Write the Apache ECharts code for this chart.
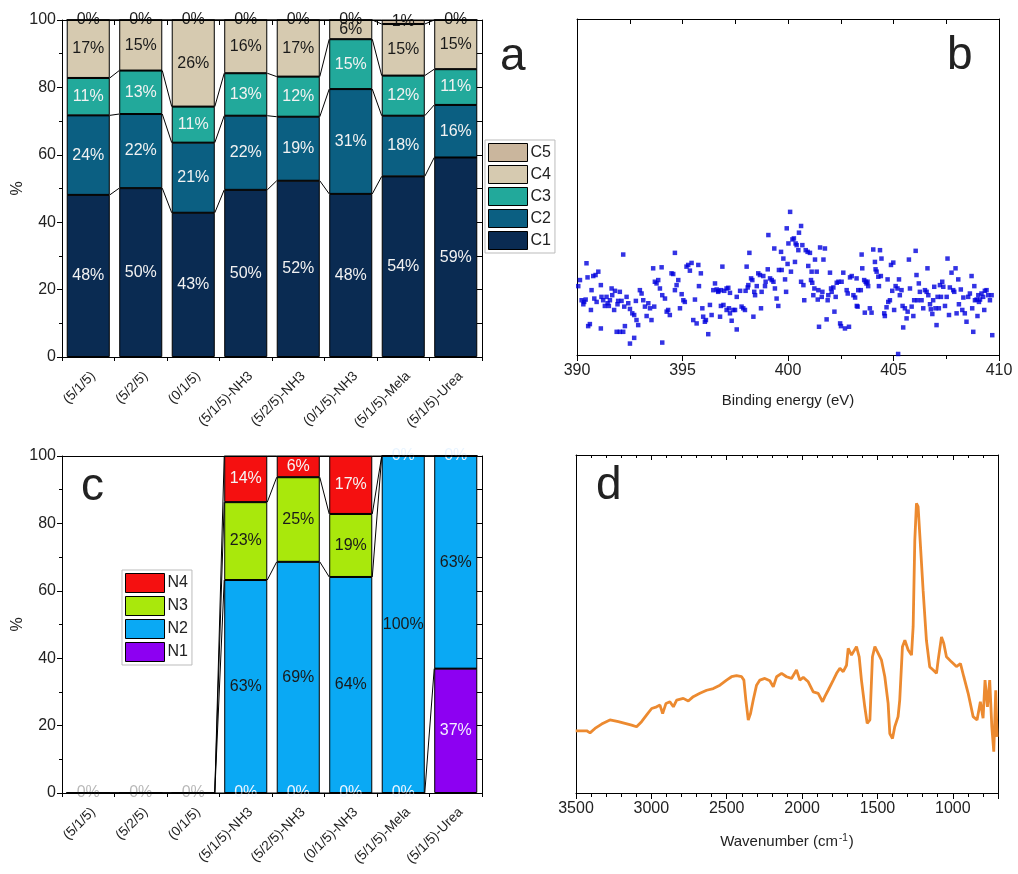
<!DOCTYPE html>
<html lang="en">
<head>
<meta charset="UTF-8">
<title>C / N species, XPS N1s, FTIR</title>
<script src="https://cdn.jsdelivr.net/npm/echarts@6/dist/echarts.min.js"></script>
<style>
html, body { margin: 0; padding: 0; background: #fff; }
#main { width: 1018px; height: 874px; }
</style>
</head>
<body>
<div id="main"></div>
<script>
// ---- data ----
var samples = ['(5/1/5)', '(5/2/5)', '(0/1/5)', '(5/1/5)-NH3', '(5/2/5)-NH3', '(0/1/5)-NH3', '(5/1/5)-Mela', '(5/1/5)-Urea'];

// panel a, carbon species (%)
var C1 = [48.1, 50.1, 42.8, 49.6, 52.3, 48.4, 53.6, 59.2];
var C2 = [23.6, 22.0, 20.8, 22.0, 19.0, 31.1, 18.0, 15.6];
var C3 = [11.1, 12.9, 10.7, 12.6, 11.9, 14.8, 11.9, 10.6];
var C4 = [17.2, 15.0, 25.7, 15.8, 16.8, 5.7, 15.3, 14.6];
var C5 = [0, 0, 0, 0, 0, 0, 1.2, 0];

// panel c, nitrogen species (%)
var N1 = [0, 0, 0, 0, 0, 0, 0, 36.9];
var N2 = [0, 0, 0, 63.2, 68.6, 64.1, 100, 63.1];
var N3 = [0, 0, 0, 23.1, 25.1, 18.7, 0, 0];
var N4 = [0, 0, 0, 13.7, 6.3, 17.2, 0, 0];

// panel b, N1s region: [binding energy eV, intensity a.u.]
var xpsPoints = [
  [390.14,22.3],[390.06,20.5],[390.45,27.3],[390.50,23.1],[390.77,23.5],[390.88,23.8],[391.01,24.8],[390.69,19.3],
  [390.22,16.3],[390.34,15.8],[390.30,15.1],[390.41,16.5],[390.66,13.4],[390.82,16.8],[390.93,15.8],[391.13,20.8],
  [391.16,17.3],[391.24,16.3],[391.32,14.6],[391.40,17.3],[391.45,15.4],[391.51,14.6],[391.56,16.3],[391.64,19.8],
  [391.67,17.8],[391.76,13.4],[391.80,19.1],[391.92,15.1],[391.95,16.1],[392.03,18.8],[392.11,16.1],[392.19,29.9],
  [392.24,14.4],[392.35,17.3],[392.43,15.4],[392.51,13.7],[392.62,12.4],[392.71,11.9],[392.79,16.1],[392.82,10.4],
  [392.90,8.9],[392.98,19.3],[393.06,18.3],[393.14,16.3],[393.22,14.4],[393.30,11.6],[393.38,15.4],[393.46,13.9],
  [393.53,10.4],[393.61,25.8],[393.66,14.4],[393.69,21.8],[393.77,21.3],[393.85,22.3],[393.93,19.8],[394.01,26.1],
  [394.04,17.8],[394.17,16.8],[394.25,12.9],[394.32,13.4],[394.40,11.9],[394.48,24.3],[394.56,24.1],[394.64,30.4],
  [394.72,20.8],[394.64,19.3],[394.80,22.3],[394.88,13.9],[394.96,18.1],[395.04,16.3],[395.11,15.8],[395.19,26.3],
  [395.27,26.8],[395.35,25.1],[395.43,27.4],[395.51,10.4],[395.59,16.5],[395.67,9.4],[395.75,26.8],[395.78,20.5],
  [395.87,24.3],[395.94,13.9],[395.98,11.4],[396.06,9.9],[396.11,10.4],[396.22,6.2],[396.30,14.9],[396.38,11.9],
  [396.46,19.3],[396.54,21.3],[396.62,19.5],[396.69,18.8],[390.53,8.6],[390.61,9.2],[391.13,7.9],[391.88,6.9],
  [392.03,6.9],[392.19,6.9],[392.27,8.6],[392.51,3.4],[392.71,5.1],[394.04,3.7],
  [396.70,19.1],[396.82,19.3],[396.89,26.3],[396.98,19.1],[397.09,19.8],[397.17,20.0],[397.25,18.5],[396.82,14.6],
  [396.94,14.9],[397.09,13.4],[397.20,13.9],[397.25,12.4],[396.78,11.4],[397.33,10.2],[397.41,13.4],[397.49,13.4],
  [397.57,17.3],[397.57,7.6],[397.73,19.1],[397.80,14.4],[397.88,13.9],[397.96,13.4],[397.99,19.1],[398.04,26.3],
  [398.09,20.1],[398.12,20.8],[398.17,30.4],[398.25,22.8],[398.31,22.3],[398.36,11.4],[398.40,18.8],[398.44,17.8],
  [398.52,20.5],[398.59,24.3],[398.67,23.8],[398.72,13.9],[398.75,18.8],[398.83,23.5],[398.91,20.5],[398.94,21.8],
  [399.04,25.5],[399.07,35.7],[399.15,22.8],[399.23,22.3],[399.31,21.8],[399.35,31.7],[399.38,19.8],[399.46,16.8],
  [399.54,14.6],[399.57,25.3],[399.67,30.7],[399.70,25.3],[399.78,28.7],[399.86,22.5],[399.91,18.8],[399.94,37.7],
  [399.98,27.1],[400.02,33.2],[400.10,42.6],[400.14,24.8],[400.21,34.4],[400.28,34.7],[400.33,27.7],[400.36,33.2],
  [400.41,32.7],[400.49,31.2],[400.52,36.4],[400.62,38.4],[400.62,21.8],[400.68,32.7],[400.73,20.8],[400.77,16.3],
  [400.84,31.2],[400.93,30.7],[400.96,26.5],[401.04,30.4],[401.09,22.3],[401.12,24.8],[401.15,21.5],[401.20,17.8],
  [401.25,19.8],[401.28,28.4],[401.36,24.8],[401.41,16.5],[401.44,19.3],[401.47,8.4],[401.52,32.0],[401.60,17.3],
  [401.63,18.8],[401.68,28.4],[401.75,31.7],[401.83,10.6],[401.88,16.3],[401.91,17.8],[401.99,24.5],[402.04,19.8],
  [402.07,18.8],[402.15,20.1],[402.20,12.9],[402.26,17.3],[402.31,21.5],[402.39,21.8],[402.47,9.4],[402.51,8.6],
  [402.54,21.8],[402.62,24.5],[402.70,7.9],[402.78,19.3],[402.83,18.3],[402.89,8.4],[402.94,23.1],[403.02,23.5],
  [403.10,17.8],[403.18,17.1],[403.26,14.6],[403.33,19.3],
  [403.25,22.8],[403.45,19.3],[403.30,14.4],[403.49,29.9],[403.52,25.8],[403.61,22.3],[403.68,21.8],[403.72,21.3],
  [403.80,20.5],[403.77,21.8],[403.88,13.9],[403.64,12.6],[403.96,12.6],[404.04,31.4],[404.12,27.7],[404.15,25.5],
  [404.20,24.8],[404.28,23.3],[404.31,20.5],[404.36,31.2],[404.40,23.5],[404.43,28.7],[404.56,12.4],[404.59,11.6],
  [404.67,14.2],[404.72,22.5],[404.75,15.8],[404.83,16.3],[404.88,26.8],[404.94,19.1],[404.99,27.5],[405.03,13.4],
  [405.10,20.5],[405.19,19.8],[405.26,22.5],[405.30,17.8],[405.38,19.3],[405.43,14.6],[405.46,8.2],[405.54,13.9],
  [405.62,10.9],[405.67,12.9],[405.73,28.4],[405.78,19.8],[405.86,14.4],[405.94,11.6],[405.98,16.3],[406.05,31.0],
  [406.09,23.8],[406.14,16.3],[406.20,21.3],[406.25,18.8],[406.33,16.3],[406.41,13.9],[406.49,19.3],[406.57,18.8],
  [406.61,25.8],[406.65,17.8],[406.73,15.1],[406.77,13.6],[406.84,12.2],[406.88,16.3],[406.93,20.3],[406.99,13.9],
  [407.04,8.9],[407.09,17.3],[407.15,13.9],[407.20,20.8],[407.25,17.3],[407.31,21.8],[407.36,20.3],[407.44,14.6],
  [407.52,17.3],[407.56,28.7],[407.63,11.9],[407.67,20.1],[407.75,24.5],[407.83,19.3],[407.88,18.8],[407.94,25.8],
  [407.99,12.4],[408.07,22.5],[408.10,15.1],[408.19,19.5],[408.26,13.4],[408.31,17.1],[408.38,12.4],[408.46,9.9],
  [408.54,17.3],[408.62,18.3],[408.70,23.5],[408.73,13.9],[408.83,20.5],[408.86,16.3],[408.94,16.5],[408.98,11.6],
  [409.02,17.8],[409.05,15.8],[409.10,16.5],[409.17,18.3],[409.25,17.3],[409.30,13.4],[409.33,19.1],[409.41,19.3],
  [409.49,17.8],[409.57,16.3],[409.65,17.8],[409.68,5.9],[408.78,6.9],[405.22,0.3]
];

// panel d, FTIR: [wavenumber cm-1, transmittance a.u.]
var ftirPoints = [
  [3502,18.4],[3429,18.4],[3407,17.8],[3374,19.1],[3330,20.4],[3275,21.6],[3219,21.1],[3175,20.6],
  [3131,20.1],[3098,19.6],[3065,21.1],[3031,23.1],[2998,25.0],[2965,25.5],[2943,26.0],[2925,23.5],
  [2903,26.5],[2877,27.0],[2854,25.5],[2832,27.5],[2788,28.0],[2755,27.2],[2722,28.5],[2678,29.5],
  [2633,30.4],[2589,30.9],[2545,31.9],[2501,33.4],[2468,34.4],[2435,34.7],[2401,34.4],[2386,33.4],
  [2373,27.5],[2357,21.6],[2342,23.5],[2324,27.5],[2302,31.9],[2280,33.4],[2247,33.9],[2214,33.2],
  [2191,31.4],[2169,34.4],[2136,35.4],[2103,34.4],[2070,33.9],[2037,36.4],[2015,33.4],[1992,34.2],
  [1959,32.9],[1926,29.9],[1893,29.5],[1864,27.0],[1849,28.5],[1827,30.4],[1793,33.4],[1771,35.4],
  [1749,36.9],[1727,35.9],[1705,37.8],[1694,42.8],[1672,40.8],[1639,43.3],[1621,40.3],[1606,33.4],
  [1584,25.5],[1568,20.6],[1550,21.6],[1533,40.3],[1517,43.3],[1495,41.3],[1473,39.3],[1451,34.4],
  [1429,26.5],[1418,17.6],[1400,16.1],[1385,19.6],[1363,22.6],[1352,27.5],[1334,43.3],[1318,45.2],
  [1296,42.3],[1274,40.8],[1263,49.2],[1252,74.8],[1241,85.7],[1230,84.7],[1214,72.8],[1197,60.0],
  [1175,45.2],[1153,37.3],[1130,36.4],[1108,35.4],[1097,39.3],[1075,46.2],[1060,44.3],[1042,40.3],
  [1009,38.8],[976,37.4],[949,38.3],[927,34.4],[898,29.5],[865,22.6],[839,21.6],[817,27.0],
  [799,22.1],[786,33.4],[770,25.5],[755,33.4],[741,19.6],[728,12.2],[715,30.4],[706,16.6]
];

// ---- helpers ----
var FONT = '"Liberation Sans", Arial, sans-serif';
var HALF = 0.41; // half bar width in category units (bar width 82%)
var black = { color: '#000', width: 1 };

function pct(p) { return Math.round(p.value) + '%'; }

function cumulative(list) {
  var run = list[0].map(function () { return 0; });
  return list.map(function (arr) {
    run = run.map(function (r, i) { return r + arr[i]; });
    return run.slice();
  });
}

function connector(level, xIdx, yIdx) {
  var pts = [];
  level.forEach(function (v, i) { pts.push([i - HALF, v], [i + HALF, v]); });
  return {
    type: 'line', xAxisIndex: xIdx, yAxisIndex: yIdx, data: pts, symbol: 'none',
    lineStyle: black, silent: true, clip: false, z: 3, animation: false
  };
}

function barSeries(name, vals, stack, color, labelColor, xIdx, yIdx, itemFn) {
  return {
    name: name, type: 'bar', stack: stack, xAxisIndex: xIdx, yAxisIndex: yIdx,
    barWidth: '82%',
    itemStyle: { color: color, borderColor: '#000', borderWidth: 1 },
    label: { show: true, position: 'inside', formatter: pct, color: labelColor, fontSize: 16, fontFamily: FONT },
    data: itemFn ? vals.map(itemFn) : vals,
    animation: false
  };
}

function yLeft(grid, named) {
  return {
    gridIndex: grid, type: 'value', min: 0, max: 100, interval: 20, position: 'left',
    name: named ? '%' : '', nameLocation: 'middle', nameGap: 36,
    nameTextStyle: { fontSize: 16, color: '#222', fontFamily: FONT },
    axisLine: { show: true, onZero: false, lineStyle: black },
    axisTick: { show: named, length: 5, lineStyle: black },
    minorTick: { show: named, splitNumber: 2, length: 3, lineStyle: black },
    axisLabel: { show: named, fontSize: 16, color: '#222', margin: 6, fontFamily: FONT },
    splitLine: { show: false }
  };
}

function yRight(grid, ticks) {
  return {
    gridIndex: grid, type: 'value', min: 0, max: 100, interval: 20, position: 'right',
    axisLine: { show: true, onZero: false, lineStyle: black },
    axisTick: { show: ticks, inside: true, length: 5, lineStyle: black },
    minorTick: { show: ticks, splitNumber: 2, length: 5, lineStyle: black },
    axisLabel: { show: false }, splitLine: { show: false }
  };
}

function catBottom(grid) {
  return {
    gridIndex: grid, type: 'category', data: samples, position: 'bottom',
    axisLine: { onZero: false, lineStyle: black },
    axisTick: { alignWithLabel: true, length: 7, lineStyle: black },
    axisLabel: {
      rotate: 45, interval: 0, fontSize: 13.5, color: '#222', margin: 12,
      verticalAlign: 'top', fontFamily: FONT
    }
  };
}

function slotAxis(grid, pos, showLine, inside, len) {
  return {
    gridIndex: grid, type: 'value', position: pos, min: -0.5, max: samples.length - 0.5, interval: 1,
    axisLine: { show: showLine, onZero: false, lineStyle: black },
    axisTick: { show: len > 0, inside: inside, length: len, lineStyle: black },
    axisLabel: { show: false }, splitLine: { show: false }
  };
}

function plainNum(v) { return String(v); }

// ---- panel c label visibility ----
var nTotal = N1.map(function (v, i) { return v + N2[i] + N3[i] + N4[i]; });
function nItems(edge, zeroColor) {
  return function (v, i) {
    if (v > 0) return v;
    var showZero = edge === 'bottom' || (edge === 'top' && nTotal[i] > 0);
    var col = nTotal[i] > 0 ? zeroColor : '#b8b8b8';
    return { value: v, label: { show: showZero, color: col } };
  };
}

var levA = cumulative([C1, C2, C3, C4, C5]);
var levC = cumulative([N1, N2, N3, N4]);

var chart = echarts.init(document.getElementById('main'));

var option = {
  animation: false,
  textStyle: { fontFamily: FONT },
  grid: [
    { left: 62, top: 20, width: 420, height: 337 },
    { left: 577, top: 19, width: 422, height: 336 },
    { left: 62, top: 456, width: 420, height: 337 },
    { left: 576, top: 455, width: 422, height: 338 }
  ],
  legend: [
    {
      data: ['C5', 'C4', 'C3', 'C2', 'C1'], orient: 'vertical', left: 485, top: 140,
      icon: 'rect', itemWidth: 39, itemHeight: 18, itemGap: 3, padding: [3, 4, 3, 3],
      borderColor: '#bbb', borderWidth: 1, selectedMode: false,
      itemStyle: { borderColor: '#000', borderWidth: 1 },
      textStyle: { fontSize: 16, color: '#222', padding: [0, 0, 0, -2] }
    },
    {
      data: ['N4', 'N3', 'N2', 'N1'], orient: 'vertical', left: 122, top: 570,
      icon: 'rect', itemWidth: 39, itemHeight: 19, itemGap: 3, padding: [3, 4, 3, 3],
      borderColor: '#bbb', borderWidth: 1, selectedMode: false,
      itemStyle: { borderColor: '#000', borderWidth: 1 },
      textStyle: { fontSize: 16, color: '#222', padding: [0, 0, 0, -2] }
    }
  ],
  xAxis: [
    // panel a
    catBottom(0),
    slotAxis(0, 'bottom', false, false, 4),
    slotAxis(0, 'top', true, true, 5),
    // panel b
    {
      gridIndex: 1, type: 'value', position: 'bottom', min: 390, max: 410, interval: 5,
      name: 'Binding energy (eV)', nameLocation: 'middle', nameGap: 38,
      nameTextStyle: { fontSize: 15, color: '#222' },
      axisLine: { onZero: false, lineStyle: black },
      axisTick: { length: 6, lineStyle: black },
      minorTick: { show: true, splitNumber: 2, length: 4, lineStyle: black },
      axisLabel: { fontSize: 16, color: '#222', margin: 8 },
      splitLine: { show: false }, minorSplitLine: { show: false }
    },
    {
      gridIndex: 1, type: 'value', position: 'top', min: 390, max: 410, interval: 2.5,
      axisLine: { onZero: false, lineStyle: black },
      axisTick: { inside: true, length: 5, lineStyle: black },
      axisLabel: { show: false }, splitLine: { show: false }
    },
    // panel c
    catBottom(2),
    slotAxis(2, 'bottom', false, false, 4),
    {
      gridIndex: 2, type: 'category', data: samples, position: 'top',
      axisLine: { onZero: false, lineStyle: black },
      axisTick: { alignWithLabel: true, inside: true, length: 5, lineStyle: black },
      axisLabel: { show: false }
    },
    // panel d
    {
      gridIndex: 3, type: 'value', position: 'bottom', min: 700, max: 3500, inverse: true,
      name: '{t|Wavenumber (cm}{s|-1}{t|)}', nameLocation: 'middle', nameGap: 40,
      nameTextStyle: {
        rich: {
          t: { fontSize: 15, color: '#222', fontFamily: FONT },
          s: { fontSize: 10, color: '#222', fontFamily: FONT, padding: [0, 1, 8, 1] }
        }
      },
      axisLine: { onZero: false, lineStyle: black },
      axisTick: { length: 6, lineStyle: black },
      minorTick: { show: true, splitNumber: 5, length: 4, lineStyle: black },
      axisLabel: { fontSize: 16, color: '#222', margin: 8, showMinLabel: false, formatter: plainNum },
      splitLine: { show: false }, minorSplitLine: { show: false }
    },
    {
      gridIndex: 3, type: 'value', position: 'top', min: 700, max: 3500, inverse: true,
      axisLine: { onZero: false, lineStyle: black },
      axisTick: { inside: true, length: 5, lineStyle: black },
      minorTick: { show: true, splitNumber: 5, length: 3, lineStyle: black },
      axisLabel: { show: false }, splitLine: { show: false }, minorSplitLine: { show: false }
    }
  ],
  yAxis: [
    yLeft(0, true), yRight(0, true),
    yLeft(1, false), yRight(1, false),
    yLeft(2, true), yRight(2, true),
    yLeft(3, false), yRight(3, false)
  ],
  graphic: [
    { type: 'text', x: 500, y: 57, style: { text: 'a', fontSize: 46, fontFamily: FONT, fill: '#222', verticalAlign: 'middle' } },
    { type: 'text', x: 947, y: 56, style: { text: 'b', fontSize: 46, fontFamily: FONT, fill: '#222', verticalAlign: 'middle' } },
    { type: 'text', x: 81, y: 487, style: { text: 'c', fontSize: 46, fontFamily: FONT, fill: '#222', verticalAlign: 'middle' } },
    { type: 'text', x: 596, y: 486, style: { text: 'd', fontSize: 46, fontFamily: FONT, fill: '#222', verticalAlign: 'middle' } }
  ],
  series: [
    barSeries('C1', C1, 'A', '#0a2b52', '#f2f2f2', 0, 0),
    barSeries('C2', C2, 'A', '#0b5f82', '#f2f2f2', 0, 0),
    barSeries('C3', C3, 'A', '#22a99b', '#f2f2f2', 0, 0),
    barSeries('C4', C4, 'A', '#d6cab0', '#1a1a1a', 0, 0),
    barSeries('C5', C5, 'A', '#cab69d', '#1a1a1a', 0, 0),
    connector(levA[0], 1, 0), connector(levA[1], 1, 0), connector(levA[2], 1, 0),
    connector(levA[3], 1, 0), connector(levA[4], 1, 0),

    {
      type: 'scatter', xAxisIndex: 3, yAxisIndex: 2, data: xpsPoints,
      symbol: 'rect', symbolSize: 4.5, itemStyle: { color: '#0000dd' }, clip: false
    },

    barSeries('N1', N1, 'N', '#8d00f2', '#f4eeff', 5, 4, nItems('bottom', '#eef6ff')),
    barSeries('N2', N2, 'N', '#0aa9f4', '#1a1a1a', 5, 4, nItems('mid', '#1a1a1a')),
    barSeries('N3', N3, 'N', '#a9e80c', '#1a1a1a', 5, 4, nItems('mid', '#1a1a1a')),
    barSeries('N4', N4, 'N', '#f51010', '#f5f5f5', 5, 4, nItems('top', '#e8f4ff')),
    connector(levC[0], 6, 4), connector(levC[1], 6, 4),
    connector(levC[2], 6, 4), connector(levC[3], 6, 4),

    {
      type: 'line', xAxisIndex: 8, yAxisIndex: 6, data: ftirPoints, symbol: 'none',
      lineStyle: { color: '#ec8a30', width: 2.8 }, clip: true
    }
  ]
};

chart.setOption(option);
window.onresize = chart.resize;
</script>
</body>
</html>
